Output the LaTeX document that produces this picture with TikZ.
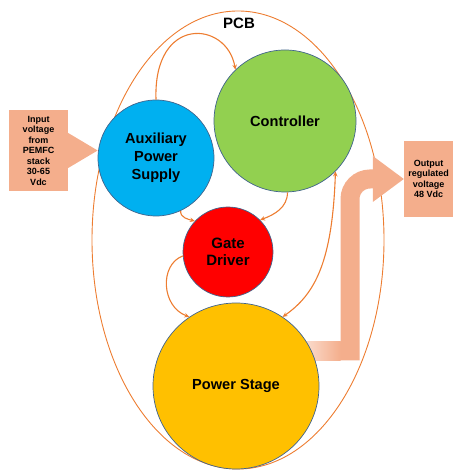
\documentclass[tikz,border=0pt]{standalone}
\usepackage{fontspec}
\setmainfont{Liberation Sans}
\usepackage{tikz}
\usetikzlibrary{arrows.meta, backgrounds}
\definecolor{pcbline}{RGB}{237,125,49}
\definecolor{boxfill}{RGB}{244,174,140}
\definecolor{auxblue}{RGB}{0,176,240}
\definecolor{ctrlgreen}{RGB}{146,208,80}
\definecolor{psyellow}{RGB}{255,192,0}
\definecolor{rimblue}{RGB}{65,100,140}

\begin{document}
\begin{tikzpicture}
    [
      x=1pt,
      y=1pt,
      block/.style={circle,draw=rimblue,line width=0.7pt,inner sep=0pt,align=center,
        font=\fontsize{14.6}{18}\selectfont\bfseries},
      labelbox/.style={rectangle,fill=boxfill,inner sep=0pt,align=center,
        font=\fontsize{9}{10.5}\selectfont\bfseries},
      link/.style={draw=pcbline,line width=1.1pt,-{Stealth[length=5pt,width=4.5pt]}},
    ]
    \useasboundingbox (0,0) rectangle (453,470);

    \node at (239, 447) [font=\fontsize{15}{18}\selectfont\bfseries] (pcb) {PCB};

    \node at (38.5, 319.5) [labelbox, minimum width=59pt, minimum height=81pt] (inbox)
      {Input\\voltage\\from\\PEMFC\\stack\\30-65\\Vdc};
    \node at (428.5, 291)  [labelbox, minimum width=49pt, minimum height=76pt] (outbox)
      {Output\\regulated\\voltage\\48 Vdc};

    \node at (156, 312) [block, fill=auxblue, minimum size=116pt] (aux) {Auxiliary\\Power\\Supply};
    \node at (285, 349) [block, fill=ctrlgreen, minimum size=142pt] (ctrl) {Controller};
    \node at (228, 218) [block, fill=red, minimum size=90pt,
      font=\fontsize{15}{17}\selectfont\bfseries] (gate) {Gate\\Driver};
    \node at (236, 84)  [block, fill=psyellow, minimum size=166pt] (power) {Power Stage};

    \draw[link] (aux.north) .. controls +(92:85) and +(100:50) .. (ctrl.134);
    \draw[link] (aux.-65) to [out=-95, in=165] (gate.137);
    \draw[link] (ctrl.-88) to [out=-90, in=20] (gate.45);
    \draw[link] (gate.185) .. controls +(200:25) and +(160:30) .. (power.124);
    \draw[link, {Stealth[length=5pt,width=4.5pt]}-{Stealth[length=5pt,width=4.5pt]}]
      (power.56) .. controls +(35:40) and +(-92:90) .. (ctrl.-45);

    \begin{scope}[on background layer]
      \draw[pcbline, line width=0.9pt] (238, 230) ellipse [x radius=146, y radius=229];
      \coordinate (bend) at (350, 119);
      \draw[boxfill, line width=19pt] (power.center |- bend) -- (bend) -- ++(0, 152)
        arc [start angle=180, end angle=90, radius=20] -- ([xshift=-31pt]outbox.west);
      \shade[left color=boxfill!35, right color=boxfill] (300, 109.5) rectangle (340.5, 128.5);
      \fill[boxfill] ([xshift=-31pt, yshift=23pt]outbox.west) -- (outbox.west)
        -- ([xshift=-31pt, yshift=-23pt]outbox.west) -- cycle;
      \fill[boxfill] ([yshift=17.5pt]inbox.east) -- (inbox.east -| aux.west)
        -- ([yshift=-17.5pt]inbox.east) -- cycle;
    \end{scope}
  \end{tikzpicture}
\end{document}
